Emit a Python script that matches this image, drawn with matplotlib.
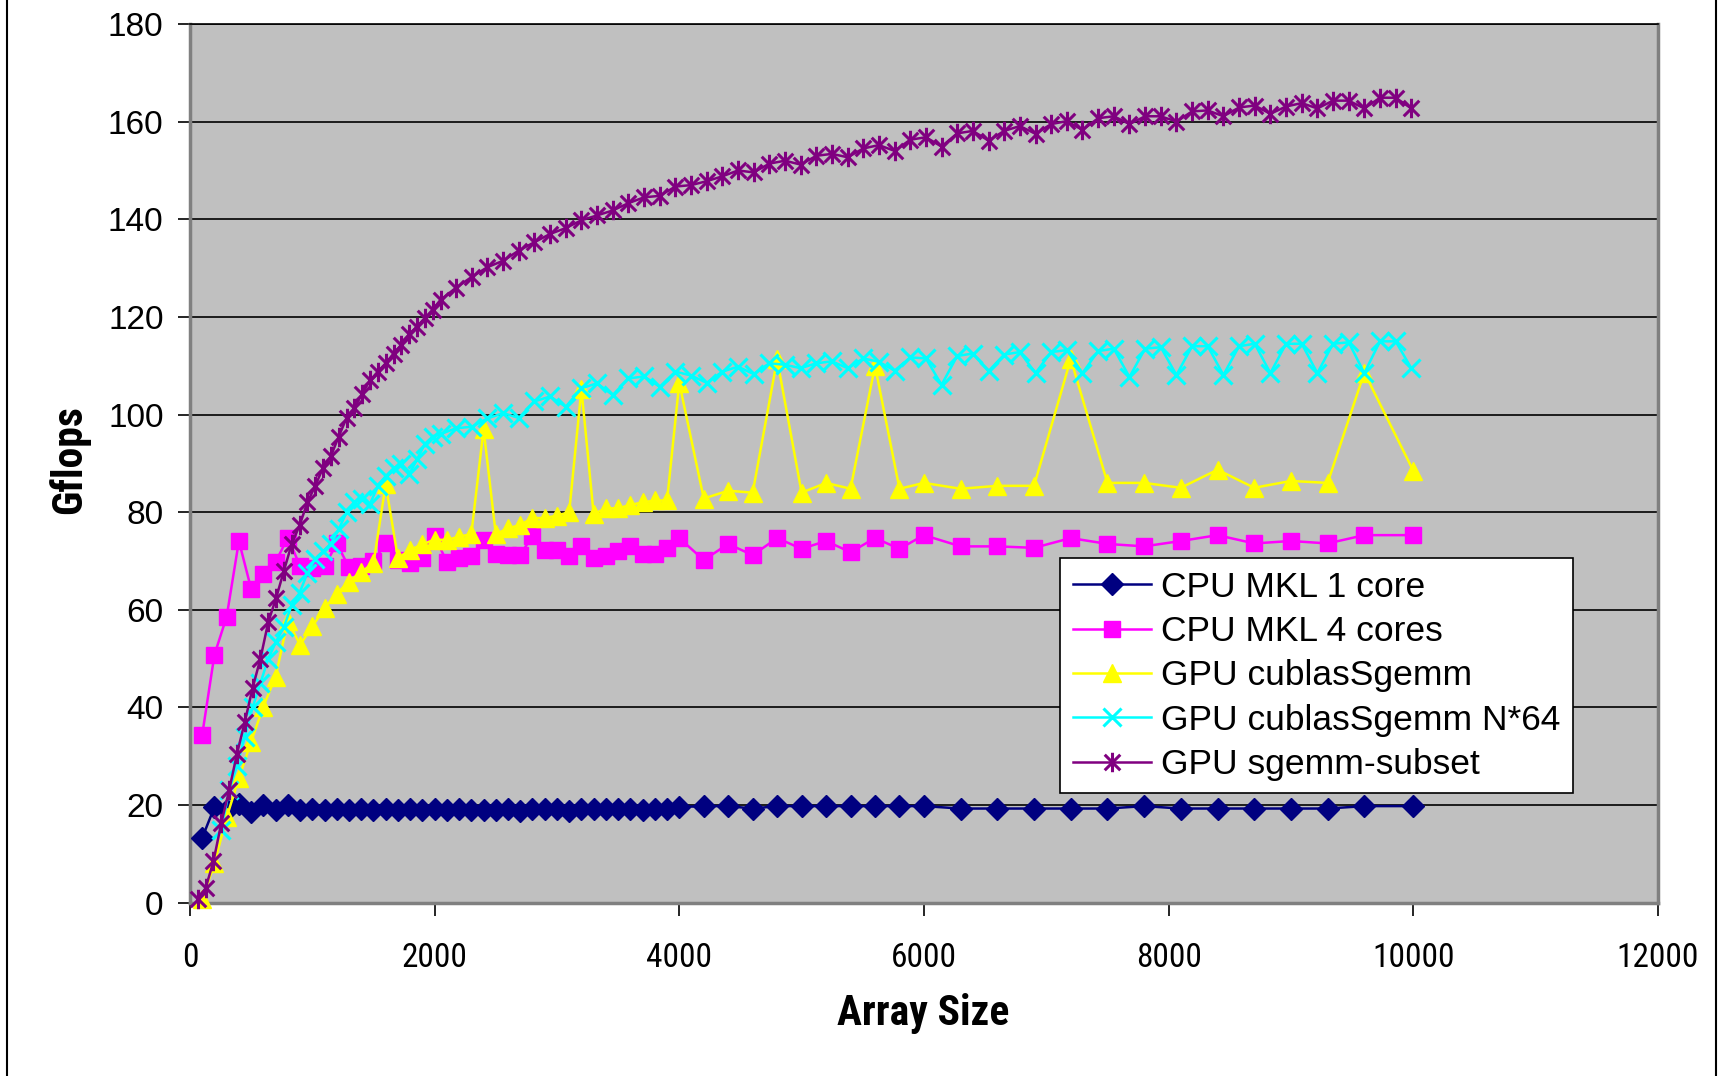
#!/usr/bin/env python3
# Gflops vs array size for CPU MKL and GPU sgemm variants (Excel-style XY chart)

import matplotlib
matplotlib.use("Agg")
import matplotlib.pyplot as plt
from matplotlib import font_manager
from matplotlib.lines import Line2D
from matplotlib.path import Path

# sizes sampled for the CPU runs and plain cublasSgemm
cpu_sizes = [
    100, 200, 300, 400, 500, 600, 700, 800, 900, 1000,
    1100, 1200, 1300, 1400, 1500, 1600, 1700, 1800, 1900, 2000,
    2100, 2200, 2300, 2400, 2500, 2600, 2700, 2800, 2900, 3000,
    3100, 3200, 3300, 3400, 3500, 3600, 3700, 3800, 3900, 4000,
    4200, 4400, 4600, 4800, 5000, 5200, 5400, 5600, 5800, 6000,
    6300, 6600, 6900, 7200, 7500, 7800, 8100, 8400, 8700, 9000, 9300, 9600,
    10000,
]

mkl_1core = [
    13.3, 19.6, 19.0, 20.2, 18.6, 20.0, 18.9, 20.0, 19.0, 19.2,
    19.0, 19.3, 18.9, 19.2, 18.9, 19.3, 18.9, 19.2, 18.9, 19.2,
    19.0, 19.2, 19.0, 19.1, 19.0, 19.2, 18.7, 19.2, 19.2, 19.2,
    18.7, 19.2, 19.2, 19.2, 19.2, 19.2, 19.1, 19.3, 19.3, 19.6,
    19.8, 19.8, 19.3, 19.8, 19.8, 19.8, 19.8, 19.8, 19.8, 19.8,
    19.3, 19.3, 19.3, 19.3, 19.3, 19.8, 19.3, 19.3, 19.3, 19.3, 19.3, 19.8,
    19.8,
]

mkl_4cores = [
    34.4, 50.8, 58.6, 74.1, 64.3, 67.3, 69.8, 74.8, 69.0, 68.5,
    68.9, 73.6, 68.7, 68.9, 70.0, 73.6, 70.2, 69.5, 70.6, 75.1,
    69.8, 70.6, 71.0, 74.3, 71.4, 71.3, 71.3, 75.1, 72.2, 72.2,
    71.0, 73.0, 70.6, 71.0, 72.0, 73.0, 71.4, 71.4, 72.7, 74.7,
    70.2, 73.5, 71.2, 74.7, 72.5, 74.1, 71.8, 74.7, 72.5, 75.3,
    73.0, 73.0, 72.7, 74.7, 73.5, 73.0, 74.1, 75.3, 73.6, 74.1, 73.6, 75.3,
    75.3,
]

cublas = [
    0.7, 8.1, 17.5, 25.5, 33.0, 40.2, 46.3, 57.8, 52.8, 56.6,
    60.3, 63.3, 65.8, 67.8, 69.5, 85.7, 70.6, 72.3, 73.4, 74.4,
    74.3, 75.0, 75.5, 97.0, 75.5, 76.7, 77.4, 78.8, 78.8, 79.3,
    80.0, 105.2, 79.6, 80.8, 80.8, 81.5, 82.0, 82.4, 82.4, 106.5,
    82.8, 84.4, 84.0, 111.3, 84.0, 86.0, 84.8, 110.0, 84.8, 86.0,
    84.8, 85.4, 85.4, 111.4, 86.0, 86.0, 85.0, 88.7, 85.0, 86.4, 86.0, 108.6,
    88.5,
]

# sizes that are multiples of 64 (step 128 past 2048)
n64_sizes = [
    256, 320, 384, 448, 512, 576, 640, 704, 768, 832,
    896, 960, 1024, 1088, 1152, 1216, 1280, 1344, 1408, 1472,
    1536, 1600, 1664, 1728, 1792, 1856, 1920, 1984, 2048,
    2176, 2304, 2432, 2560, 2688, 2816, 2944, 3072, 3200, 3328,
    3456, 3584, 3712, 3840, 3968, 4096, 4224, 4352, 4480, 4608,
    4736, 4864, 4992, 5120, 5248, 5376, 5504, 5632, 5760, 5888,
    6016, 6144, 6272, 6400, 6528, 6656, 6784, 6912, 7040, 7168,
    7296, 7424, 7552, 7680, 7808, 7936, 8064, 8192, 8320, 8448,
    8576, 8704, 8832, 8960, 9088, 9216, 9344, 9472, 9600, 9728,
    9856, 9984,
]

cublas_n64 = [
    15.0, 23.0, 28.0, 34.0, 40.0, 45.0, 50.0, 53.5, 56.5, 61.0,
    63.5, 67.5, 70.5, 72.0, 73.5, 76.5, 80.0, 82.0, 82.7, 81.7,
    85.4, 87.4, 89.0, 89.8, 87.8, 90.8, 94.0, 95.5, 96.0,
    97.2, 97.5, 99.2, 100.3, 99.3, 102.7, 103.7, 101.6, 105.4, 106.4,
    104.0, 107.4, 107.8, 105.7, 108.8, 108.0, 106.5, 108.8, 109.8, 108.3,
    110.5, 110.2, 109.5, 110.5, 110.9, 109.5, 111.5, 110.8, 109.0, 111.7,
    111.5, 106.1, 112.0, 112.5, 108.9, 112.3, 112.8, 108.5, 112.8, 113.2,
    108.5, 113.0, 113.5, 107.7, 113.5, 113.8, 108.1, 114.0, 114.0, 108.1,
    114.0, 114.5, 108.5, 114.5, 114.5, 108.5, 114.5, 114.8, 108.5, 115.0,
    115.0, 109.5,
]

subset_sizes = [
    64, 128, 192, 256, 320, 384, 448, 512, 576, 640,
    704, 768, 832, 896, 960, 1024, 1088, 1152, 1216, 1280,
    1344, 1408, 1472, 1536, 1600, 1664, 1728, 1792, 1856, 1920,
    1984, 2048,
    2176, 2304, 2432, 2560, 2688, 2816, 2944, 3072, 3200, 3328,
    3456, 3584, 3712, 3840, 3968, 4096, 4224, 4352, 4480, 4608,
    4736, 4864, 4992, 5120, 5248, 5376, 5504, 5632, 5760, 5888,
    6016, 6144, 6272, 6400, 6528, 6656, 6784, 6912, 7040, 7168,
    7296, 7424, 7552, 7680, 7808, 7936, 8064, 8192, 8320, 8448,
    8576, 8704, 8832, 8960, 9088, 9216, 9344, 9472, 9600, 9728,
    9856, 9984,
]

sgemm_subset = [
    0.7, 3.0, 8.5, 16.3, 23.0, 30.5, 37.0, 44.0, 50.0, 57.5,
    62.4, 68.0, 73.5, 77.3, 82.0, 85.4, 89.1, 91.5, 95.5, 99.3,
    101.3, 104.3, 107.0, 108.8, 110.5, 112.5, 114.3, 116.5, 118.0, 119.8,
    121.5, 123.5,
    126.0, 128.2, 130.2, 131.5, 133.6, 135.3, 137.0, 138.2, 139.8, 140.8,
    141.8, 143.3, 144.5, 144.8, 146.7, 147.0, 147.8, 148.8, 150.0, 149.6,
    151.4, 152.0, 151.2, 153.0, 153.4, 152.7, 154.5, 155.2, 154.0, 156.3,
    156.8, 154.9, 157.6, 158.1, 156.1, 158.1, 159.1, 157.5, 159.5, 160.1,
    158.3, 160.7, 161.1, 159.5, 161.1, 161.1, 160.0, 162.1, 162.3, 161.1,
    162.9, 163.3, 161.6, 163.1, 163.8, 162.7, 164.3, 164.3, 162.7, 164.9,
    164.9, 162.7,
]

x_ticks = [0, 2000, 4000, 6000, 8000, 10000, 12000]
y_ticks = [0, 20, 40, 60, 80, 100, 120, 140, 160, 180]

# Excel style asterisk: an x with a vertical bar through it
ASTERISK = Path(
    [(0, -1), (0, 1), (-0.8, -0.8), (0.8, 0.8), (-0.8, 0.8), (0.8, -0.8)],
    [Path.MOVETO, Path.LINETO, Path.MOVETO, Path.LINETO, Path.MOVETO, Path.LINETO],
)

REGULAR = ["Liberation Sans", "DejaVu Sans"]


def pick_narrow_font():
    # Excel drew the axis text in a condensed face; use one if it is installed
    installed = {f.name for f in font_manager.fontManager.ttflist}
    for name in ("Liberation Sans Narrow", "Arial Narrow", "Roboto Condensed",
                 "Open Sans Condensed", "DejaVu Sans Condensed"):
        if name in installed:
            return [name, "Liberation Sans"], True
    return REGULAR, False


def main():
    narrow, have_narrow = pick_narrow_font()
    xtick_size = 24 if have_narrow else 21
    label_size = 30 if have_narrow else 26

    fig = plt.figure(figsize=(17.27, 10.76), dpi=100)
    ax = fig.add_axes([0.110, 0.161, 0.850, 0.8167])
    ax.set_facecolor("#C0C0C0")

    series = [
        (cpu_sizes, mkl_1core, "CPU MKL 1 core", "#000080", "D", 11, 1),
        (cpu_sizes, mkl_4cores, "CPU MKL 4 cores", "#FF00FF", "s", 11, 1),
        (cpu_sizes, cublas, "GPU cublasSgemm", "#FFFF00", "^", 13, 1),
        (n64_sizes, cublas_n64, "GPU cublasSgemm N*64", "#00FFFF", "x", 13, 2.2),
        (subset_sizes, sgemm_subset, "GPU sgemm-subset", "#800080", ASTERISK, 14, 2.2),
    ]
    for xs, ys, label, color, marker, ms, mew in series:
        ax.plot(xs, ys, color=color, lw=1.8, marker=marker, markersize=ms,
                markerfacecolor=color, markeredgecolor=color,
                markeredgewidth=mew, label=label, clip_on=False, zorder=3)

    ax.set_xlim(0, 12000)
    ax.set_ylim(0, 180)
    ax.set_xticks(x_ticks)
    ax.set_yticks(y_ticks)
    ax.yaxis.grid(True, color="black", lw=1.2)
    ax.set_axisbelow(True)

    for side in ("left", "bottom", "right"):
        ax.spines[side].set_color("#808080")
        ax.spines[side].set_linewidth(2.5)
    ax.spines["top"].set_color("black")
    ax.spines["top"].set_linewidth(1.2)

    ax.tick_params(axis="y", direction="out", length=9, width=1.2, pad=10,
                   colors="black")
    ax.tick_params(axis="x", direction="out", length=9, width=1.2, pad=19,
                   colors="black")
    for lbl in ax.get_yticklabels():
        lbl.set_family(REGULAR)
        lbl.set_fontsize(24)
    for lbl in ax.get_xticklabels():
        lbl.set_family(narrow)
        lbl.set_fontsize(xtick_size)

    fig.text(0.5345, 0.058, "Array Size", ha="center", va="center",
             family=narrow, fontsize=label_size, fontweight="bold")
    fig.text(0.040, 0.573, "Gflops", ha="center", va="center", rotation=90,
             family=narrow, fontsize=label_size, fontweight="bold")

    leg = ax.legend(loc="upper left", bbox_to_anchor=(0.593, 0.392),
                    borderaxespad=0, frameon=True, fancybox=False,
                    prop={"family": REGULAR, "size": 25.5},
                    handlelength=2.2, handletextpad=0.3, labelspacing=0.32,
                    borderpad=0.35, framealpha=1)
    leg.get_frame().set_edgecolor("black")
    leg.get_frame().set_linewidth(1.2)

    # outer chart border (left and right edges)
    for xpos in (0.004, 0.9935):
        fig.add_artist(Line2D([xpos, xpos], [0, 1], color="black", lw=1.5,
                              transform=fig.transFigure))

    fig.savefig("out.png", dpi=100, facecolor="white")
    plt.close(fig)


if __name__ == "__main__":
    main()
